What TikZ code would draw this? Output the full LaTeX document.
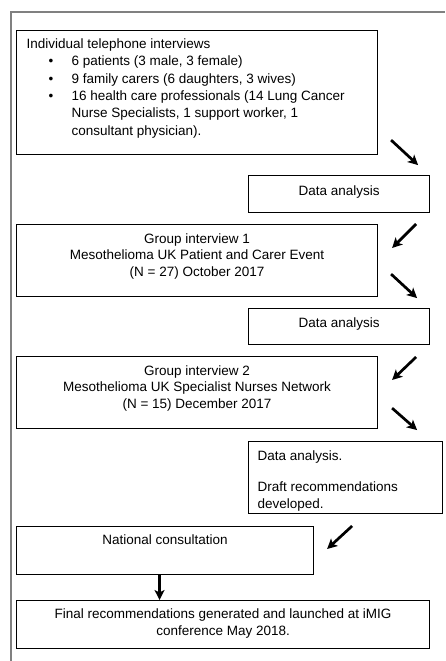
\documentclass[tikz,border=0pt]{standalone}
\usepackage{fontspec}
\setmainfont{Liberation Sans}
\usetikzlibrary{arrows.meta}

\tikzset{
  stage/.style={draw, line width=1.1pt, inner sep=0pt, anchor=north west},
  flow/.style={-{Stealth[length=10pt,width=10pt,inset=2.5pt]}, line width=2.7pt},
}

\begin{document}
\begin{tikzpicture}[x=1pt,y=-1pt,font=\fontsize{13.5}{16.5}\selectfont]
        \useasboundingbox (0,0) rectangle (445,661);
        \draw[gray, line width=1.6pt] (11,661) -- (11,12) -- (445,12);

        \node[stage] (tel) at (16,30) {\parbox[t][124pt][t]{361pt}{\raggedright\leftskip=10pt\fontsize{13.5}{17.3}\selectfont
          \rule{0pt}{18pt}Individual telephone interviews\par
          \hangindent=45pt\hangafter=1\hspace*{22pt}\makebox[23pt][l]{\textbullet}6 patients (3 male, 3 female)\par
          \hangindent=45pt\hangafter=1\hspace*{22pt}\makebox[23pt][l]{\textbullet}9 family carers (6 daughters, 3 wives)\par
          \hangindent=45pt\hangafter=1\hspace*{22pt}\makebox[23pt][l]{\textbullet}16 health care professionals (14 Lung Cancer\newline Nurse Specialists, 1 support worker, 1\newline consultant physician).}};
        \node[stage] (da1) at (248,175) {\parbox[t][37pt][t]{181pt}{\centering\rule{0pt}{20pt}Data analysis}};
        \node[stage] (g1) at (16,224) {\parbox[t][72pt][t]{361pt}{\centering\rule{0pt}{18.7pt}Group interview 1\\
          Mesothelioma UK Patient and Carer Event\\ (N = 27) October 2017}};
        \node[stage] (da2) at (248,308) {\parbox[t][36pt][t]{181pt}{\centering\rule{0pt}{19pt}Data analysis}};
        \node[stage] (g2) at (16,356) {\parbox[t][72pt][t]{361pt}{\centering\rule{0pt}{18.7pt}Group interview 2\\
          Mesothelioma UK Specialist Nurses Network\\ (N = 15) December 2017}};
        \node[stage] (da3) at (248,441) {\parbox[t][72pt][t]{194pt}{\raggedright\leftskip=9pt\fontsize{13.5}{17}\selectfont
          \rule{0pt}{19pt}Data analysis.\par\vspace{14pt}Draft recommendations\newline developed.}};
        \node[stage] (nat) at (16,526) {\parbox[t][48pt][t]{297pt}{\centering\rule{0pt}{18pt}National consultation}};
        \node[stage] (fin) at (16,600) {\parbox[t][48pt][t]{413pt}{\centering\fontsize{13.5}{17}\selectfont
          \rule{0pt}{18pt}Final recommendations generated and launched at iMIG\\ conference May 2018.}};

        \draw[flow] ([shift={(13,-15)}]tel.south east) -- ([shift={(40,10)}]tel.south east);
        \draw[flow] ([shift={(38,0)}]g1.north east) -- ([shift={(14,24)}]g1.north east);
        \draw[flow] ([shift={(13,-23)}]g1.south east) -- ([shift={(39,1)}]g1.south east);
        \draw[flow] ([shift={(38,1)}]g2.north east) -- ([shift={(14,24)}]g2.north east);
        \draw[flow] ([shift={(14,-21)}]g2.south east) -- ([shift={(39,1)}]g2.south east);
        \draw[flow] ([shift={(38,0)}]nat.north east) -- ([shift={(13,23)}]nat.north east);
        \draw[flow] ([xshift=-5.5pt]nat.south) -- ([xshift=-5.5pt]nat.south |- fin.north);
\end{tikzpicture}
\end{document}
